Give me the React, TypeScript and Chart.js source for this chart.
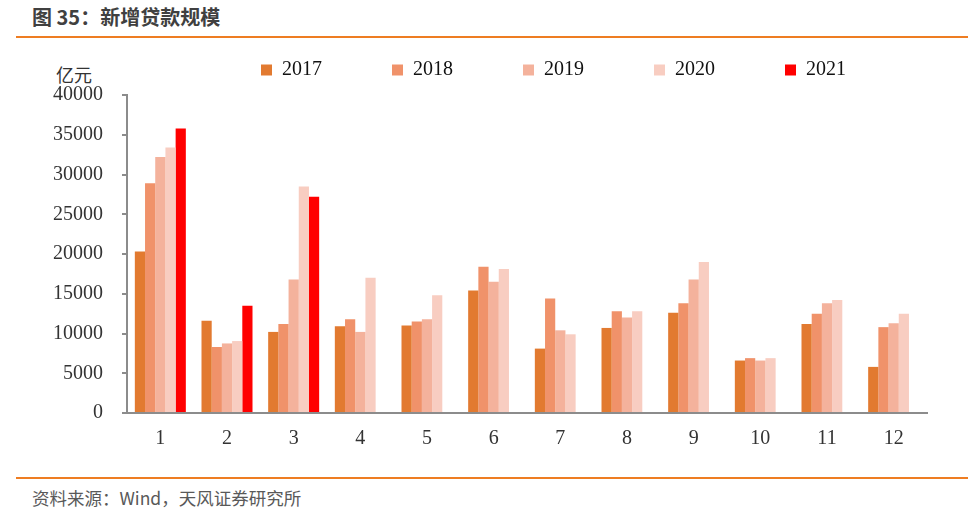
import React, { useEffect, useRef } from "react";
import { Chart, registerables } from "chart.js";

Chart.register(...registerables);

const months = ["1", "2", "3", "4", "5", "6", "7", "8", "9", "10", "11", "12"];
const seriesNames = ["2017", "2018", "2019", "2020", "2021"];
const v2017 = [20300, 11600, 10200, 10900, 11000, 15400, 8100, 10700, 12600, 6600, 11200, 5800];
const v2018 = [28900, 8300, 11200, 11800, 11500, 18400, 14400, 12800, 13800, 6900, 12500, 10800];
const v2019 = [32200, 8750, 16800, 10200, 11800, 16500, 10400, 12000, 16800, 6600, 13800, 11300];
const v2020 = [33400, 9050, 28500, 17000, 14800, 18100, 9900, 12800, 19000, 6900, 14200, 12500];
const v2021 = [35800, 13500, 27200, null, null, null, null, null, null, null, null, null];
const yTicks = [0, 5000, 10000, 15000, 20000, 25000, 30000, 35000, 40000];
const colors = ["#E27A30", "#F0926A", "#F4B29C", "#F8CDC1", "#FF0000"];

const legendShift = {
  id: "legendShift",
  afterLayout(chart: any) {
    const l = chart.legend;
    if (l) {
      l.left += 73;
      l.right += 73;
    }
  },
};

export default function App() {
  const ref = useRef<HTMLCanvasElement | null>(null);

  useEffect(() => {
    if (!ref.current) return;
    const all = [v2017, v2018, v2019, v2020, v2021];
    const chart = new Chart(ref.current, {
      type: "bar",
      data: {
        labels: months,
        datasets: all.map((d, i) => ({
          label: seriesNames[i],
          data: d,
          backgroundColor: colors[i],
          borderWidth: 0,
          categoryPercentage: 0.765,
          barPercentage: 1,
        })),
      },
      options: {
        animation: false,
        responsive: true,
        maintainAspectRatio: false,
        layout: { padding: { left: 34, right: 51, top: 0, bottom: 12 } },
        plugins: {
          legend: {
            position: "top",
            align: "center",
            labels: {
              boxWidth: 11,
              boxHeight: 11,
              padding: 70,
              color: "#111",
              font: { family: "'Liberation Serif', 'Times New Roman', serif", size: 20 },
            },
          },
          subtitle: {
            display: true,
            text: "",
            weight: 500,
            padding: 0,
            font: { size: 5, lineHeight: 1 },
          } as any,
          title: { display: false },
          tooltip: { enabled: false },
        },
        scales: {
          x: {
            grid: { display: false, drawTicks: false },
            border: { display: true, color: "#8C8C8C", width: 2 },
            ticks: {
              padding: 14,
              color: "#333",
              font: { family: "'Liberation Serif', 'Times New Roman', serif", size: 20 },
            },
          },
          y: {
            min: 0,
            max: 40000,
            afterBuildTicks: (s: any) => {
              s.ticks = yTicks.map((v) => ({ value: v }));
            },
            grid: {
              drawOnChartArea: false,
              drawTicks: true,
              tickLength: 5,
              color: "#8C8C8C",
              lineWidth: 2,
            },
            border: { display: true, color: "#8C8C8C", width: 2 },
            ticks: {
              padding: 19,
              color: "#333",
              callback: (v: any) => String(v),
              font: { family: "'Liberation Serif', 'Times New Roman', serif", size: 20 },
            },
          },
        },
      },
      plugins: [legendShift],
    });
    return () => chart.destroy();
  }, []);

  return (
    <div
      style={{
        position: "absolute",
        left: 0,
        top: 0,
        width: 978,
        height: 514,
        background: "#fff",
        overflow: "hidden",
      }}
    >
      <div
        style={{
          position: "absolute",
          left: 32,
          top: 5,
          lineHeight: "24px",
          fontSize: 20,
          fontWeight: "bold",
          color: "#404040",
          fontFamily: "'Noto Sans CJK SC', 'Noto Sans', sans-serif",
          whiteSpace: "nowrap",
        }}
      >
        图 35：新增贷款规模
      </div>
      <div style={{ position: "absolute", left: 16, top: 36, width: 952, height: 2, background: "#EE7D22" }} />
      <div
        style={{
          position: "absolute",
          left: 56,
          top: 62,
          lineHeight: "24px",
          fontSize: 18,
          color: "#333",
          fontFamily: "'Noto Sans CJK SC', sans-serif",
          whiteSpace: "nowrap",
        }}
      >
        亿元
      </div>
      <div style={{ position: "absolute", left: 0, top: -10, width: 978, height: 487 }}>
        <canvas ref={ref} />
      </div>
      <div style={{ position: "absolute", left: 16, top: 477, width: 952, height: 2, background: "#EE7D22" }} />
      <div
        style={{
          position: "absolute",
          left: 32,
          top: 488,
          lineHeight: "20px",
          fontSize: 17.5,
          color: "#595959",
          fontFamily: "'Noto Sans CJK SC', 'Noto Sans', sans-serif",
          whiteSpace: "nowrap",
        }}
      >
        资料来源：Wind，天风证券研究所
      </div>
    </div>
  );
}
